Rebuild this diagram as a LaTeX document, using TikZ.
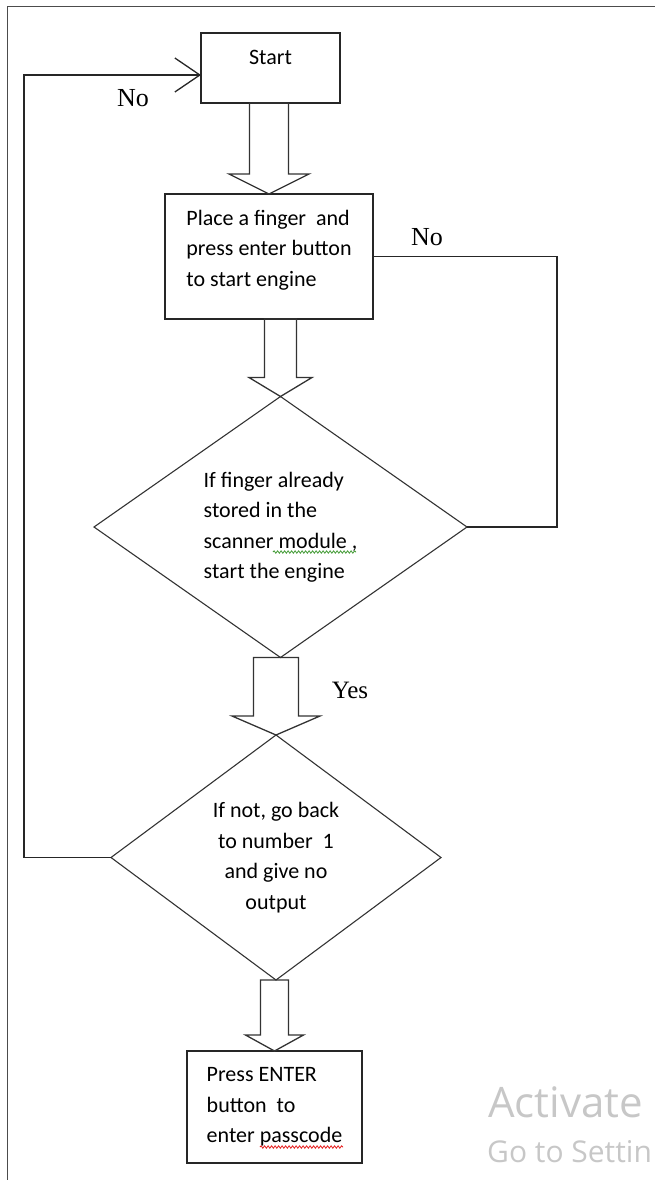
\documentclass[tikz,border=0pt]{standalone}
\usepackage{fontspec}
\setmainfont{Carlito}
\newfontfamily\timesfont{Liberation Serif}
\newfontfamily\winfont{Open Sans}
\usetikzlibrary{shapes.geometric,arrows.meta,calc,decorations.pathmorphing}

\newcommand{\hollowarrow}[5]{%
  \draw [blockarrow] ($(#2 |- #1)+(-#3,0)$) -- ($(#2)+(-#3,-#5)$) -- ($(#2)+(-#4,-#5)$) -- (#2)
    -- ($(#2)+(#4,-#5)$) -- ($(#2)+(#3,-#5)$) -- ($(#2 |- #1)+(#3,0)$) -- cycle;}

\begin{document}
\begin{tikzpicture}[x=1pt, y=-1pt,
   font=\fontsize{22}{30.5}\selectfont,
   box/.style={draw=black!85, line width=1.2pt, inner sep=0pt, outer sep=0pt},
   decision/.style={diamond, aspect=1.4, draw=black!80, line width=1.1pt, inner sep=0pt, outer sep=0pt},
   blockarrow/.style={draw=black!80, line width=1.3pt, line join=miter},
   loopline/.style={draw=black!85, line width=1.3pt},
   answer/.style={font=\timesfont\fontsize{26}{26}\selectfont, inner sep=0pt},
   squiggle/.style={decorate, decoration={snake, amplitude=1.2pt, segment length=3.5pt}, line width=0.8pt}]
   \definecolor{spellgreen}{rgb}{0.25, 0.6, 0.2}
   \definecolor{spellred}{rgb}{0.9, 0.1, 0.1}
   \definecolor{watermark}{rgb}{0.78, 0.78, 0.78}
   \useasboundingbox (0,0) rectangle (655,1180);
   \draw [black!70, line width=1pt] (7,1180) -- (7,7) -- (655,7);

   \node [box,
    minimum width=139pt,
    minimum height=70pt,
    text depth=22pt
   ] (start) at (270.5,68) {Start};
   \node [box, align=left,
    minimum width=208pt,
    minimum height=125pt,
    text depth=17pt
   ] (place) at (269,256.5) {Place a finger\ \ and\\press enter button\\to start engine};
   \node [decision, align=left,
    minimum width=373pt,
    minimum height=261pt
   ] (stored) at (280.5,527) {If finger already\\stored in the\\scanner module ,\\start the engine};
   \node [decision, align=center,
    minimum width=330pt,
    minimum height=245pt
   ] (notstored) at (276,857.5) {If not, go back\\to number\ \ 1\\and give no\\output};
   \node [box, align=left,
    minimum width=175pt,
    minimum height=112pt
   ] (passcode) at (274.5,1107) {Press ENTER\\button\ \ to\\enter passcode};

   \hollowarrow{start.south}{place.north}{19.5}{40}{20}
   \hollowarrow{place.south}{stored.north}{16}{31.5}{19}
   \hollowarrow{stored.south}{notstored.north}{22.5}{44}{19}
   \hollowarrow{notstored.south}{passcode.north}{14}{29}{16}

   \draw [loopline] (stored.east) -- ++(90,0) |- (place.east);
   \draw [loopline, -{Straight Barb[length=25pt, width=34pt]}] (notstored.west) -- ++(-87,0) |- ([yshift=-7pt]start.west);

   \node [answer] (noleft) at (133,98) {No};
   \node [answer] (noright) at (427,237) {No};
   \node [answer, font=\timesfont\fontsize{25}{25}\selectfont] (yes) at (350,690) {Yes};

   \draw [squiggle, spellgreen] (273,552) -- (356,552);
   \draw [squiggle, spellred] (260,1147) -- (343,1147);

   \node [anchor=base west, inner sep=0pt, text=watermark, font=\winfont\fontsize{42}{42}\selectfont] (activate) at (488,1117) {Activate};
   \node [anchor=base west, inner sep=0pt, text=watermark, font=\winfont\fontsize{30}{30}\selectfont] (gosettings) at (487,1162) {Go to Settin};
\end{tikzpicture}
\end{document}
